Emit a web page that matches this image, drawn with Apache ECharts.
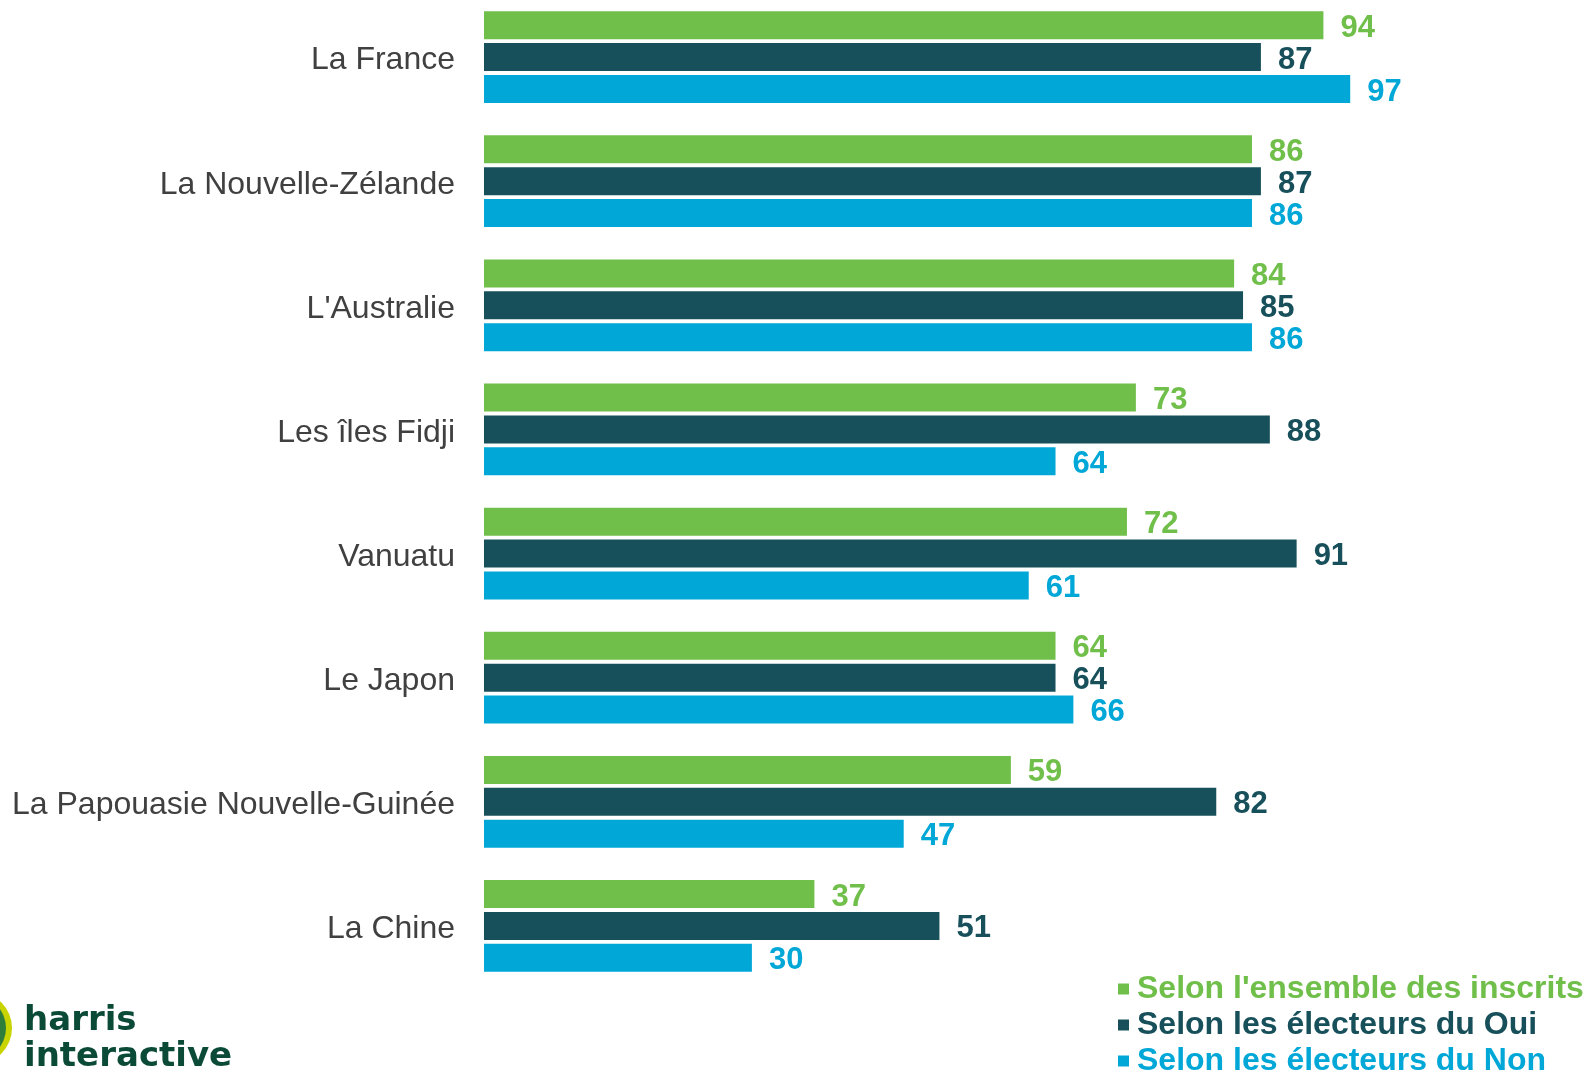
<!DOCTYPE html>
<html>
<head>
<meta charset="utf-8">
<script src="https://cdn.jsdelivr.net/npm/echarts@6/dist/echarts.min.js"></script>
<style>
  html, body { margin: 0; padding: 0; background: #fff; }
  #chart { width: 1587px; height: 1072px; }
</style>
</head>
<body>
<div id="chart"></div>
<script>
// pays
var pays = ['La France', 'La Nouvelle-Zélande', "L'Australie", 'Les îles Fidji', 'Vanuatu', 'Le Japon', 'La Papouasie Nouvelle-Guinée', 'La Chine']
var ensemble = [94, 86, 84, 73, 72, 64, 59, 37]
var oui = [87, 87, 85, 88, 91, 64, 82, 51]
var non = [97, 86, 86, 64, 61, 66, 47, 30]
var noms = ["Selon l'ensemble des inscrits", 'Selon les électeurs du Oui', 'Selon les électeurs du Non']
var couleurs = ['#70bf4a', '#17505a', '#00a7d7']

var myChart = echarts.init(document.getElementById('chart'))

function serie(i, data) {
  return {
    name: noms[i],
    type: 'bar',
    data: data,
    barWidth: 28,
    barGap: '14%',
    itemStyle: { color: couleurs[i] },
    label: {
      show: true,
      position: 'right',
      distance: 17,
      offset: [0, 3],
      color: couleurs[i],
      fontSize: 31,
      fontWeight: 'bold',
      fontFamily: 'Liberation Sans'
    },
    animation: false
  }
}

var option = {
  backgroundColor: '#fff',
  grid: { left: 484, top: -5, width: 893, height: 993, outerBoundsMode: 'none', containLabel: false },
  xAxis: {
    type: 'value',
    min: 0,
    max: 100,
    show: false
  },
  yAxis: {
    type: 'category',
    data: pays,
    inverse: true,
    axisLine: { show: false },
    axisTick: { show: false },
    axisLabel: {
      margin: 29,
      formatter: '{a|{value}}',
      rich: {
        a: {
          padding: [7, 0, 0, 0],
          color: '#404040',
          fontSize: 32,
          fontFamily: 'Liberation Sans'
        }
      }
    }
  },
  legend: {
    orient: 'vertical',
    left: 1113,
    top: 968,
    height: 140,
    itemWidth: 11,
    itemHeight: 11,
    itemGap: 4,
    icon: 'rect',
    textStyle: { fontSize: 32, fontWeight: 'bold', fontFamily: 'Liberation Sans', padding: [0, 0, 0, 3] },
    data: noms.map(function (n, i) { return { name: n, textStyle: { color: couleurs[i] } } })
  },
  graphic: [
    {
      type: 'circle',
      shape: { cx: -24, cy: 1028, r: 36 },
      style: { fill: '#c8d400' }
    },
    {
      type: 'circle',
      shape: { cx: -26, cy: 1028, r: 32 },
      style: { fill: '#2f7d3a' }
    },
    {
      type: 'circle',
      shape: { cx: -28, cy: 1028, r: 26 },
      style: { fill: '#0d4a3a' }
    },
    {
      type: 'text',
      left: 24,
      top: 1003,
      style: {
        text: 'harris\ninteractive',
        fill: '#0b4a36',
        font: 'bold 34px "DejaVu Sans"',
        lineHeight: 36
      }
    }
  ],
  series: [serie(0, ensemble), serie(1, oui), serie(2, non)]
}
myChart.setOption(option)
</script>
</body>
</html>
